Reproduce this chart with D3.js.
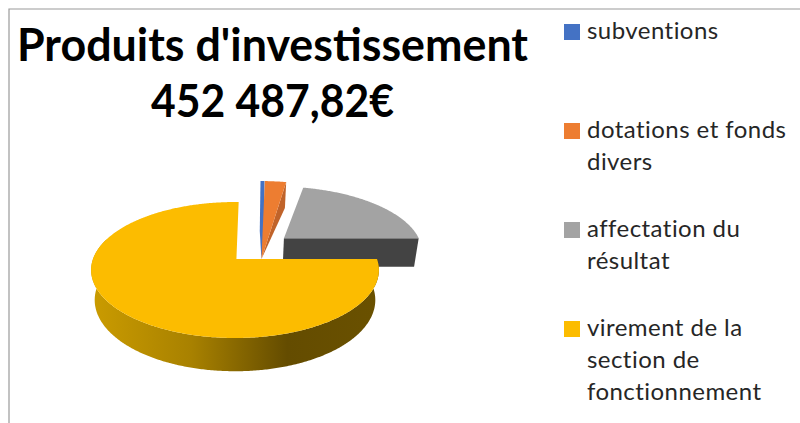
<!DOCTYPE html>
<html><head><meta charset="utf-8">
<script src="https://cdn.jsdelivr.net/npm/d3@7"></script>
<style>html,body{margin:0;padding:0;background:#fff}svg{display:block}text{font-family:Lato,Carlito,sans-serif;fill:#000}</style>
</head><body><div id="c"></div>
<script>
const categories = ["subventions","dotations et fonds divers","affectation du résultat","virement de la section de fonctionnement"];
const values = [2500, 13400, 97100, 339487.82];
const colors = ["#4472c4","#ed7d31","#a3a3a3","#fcbc00"];
const sideColors = [null,"#c0632a","#434343",null];
const explodeU = [0.222,0.225,0.363,0];
const explodeV = [0.455,0.455,0.33,0];
const titleLines = ["Produits d'investissement","452 487,82€"];
const titleWidths = [511,243];
const legendLines = [["subventions"],["dotations et fonds","divers"],["affectation du","résultat"],["virement de la","section de","fonctionnement"]];

const W=800,H=423;
const svg=d3.select("#c").append("svg").attr("width",W).attr("height",H);
svg.append("rect").attr("width",W).attr("height",H).attr("fill","#fff");
svg.append("path").attr("d",`M9 ${H}V9H${W}`).attr("fill","none").attr("stroke","#9a9a9a").attr("stroke-width",1.2);

const defs=svg.append("defs");
const g=defs.append("linearGradient").attr("id","wall").attr("gradientUnits","userSpaceOnUse")
 .attr("x1",90).attr("x2",380).attr("y1",0).attr("y2",0);
[[0,"#cb9c00"],[0.35,"#a88100"],[0.68,"#644c00"],[1,"#6a5100"]].forEach(s=>g.append("stop").attr("offset",s[0]).attr("stop-color",s[1]));

// perspective projection of the pie's unit disc
const ax=235,ay=259,A=142,B=66.2,p=0.162,T=29.5,S=0.975;
const topPt=(u,v)=>{const w=1+p*v;return [ax+A*u/w, ay-B*v/w];};
const botPt=(u,v)=>{const w=1+p*v;return [ax+A*S*u/w, ay+(T-B*S*v)/w];};
const line=d3.line();
const arcs=d3.pie().sort(null).value(d=>d).startAngle(0).endAngle(2*Math.PI)(values);
const pts=(fn,a0,a1,du,dv)=>{const n=Math.max(2,Math.ceil(Math.abs(a1-a0)/0.01));
  return d3.range(n+1).map(i=>{const t=a0+(a1-a0)*i/n;return fn(du+Math.sin(t),dv+Math.cos(t));});};
const add=(poly,fill)=>svg.append("path").attr("d",line(poly)+"Z").attr("fill",fill);

// blue: a thin strip that tapers only near its foot
{
  const a=arcs[0],du=explodeU[0],dv=explodeV[0],sw=Math.sin(a.endAngle);
  add([...pts(topPt,a.startAngle,a.endAngle,du,dv),topPt(du,dv),botPt(du-sw/2,dv),topPt(du-sw,dv)],colors[0]);
}
// orange: top face running to the foot of the apex, with its cut wall
{
  const a=arcs[1],du=explodeU[1],dv=explodeV[1];
  const foot=botPt(du-0.02,dv);
  const ex=du+Math.sin(a.endAngle),ev=dv+Math.cos(a.endAngle);
  add([topPt(ex,ev),botPt(ex,ev),foot],sideColors[1]);
  add([foot,...pts(topPt,a.startAngle,a.endAngle,du,dv)],colors[1]);
}
// grey slice
{
  const a=arcs[2],du=explodeU[2],dv=explodeV[2];
  const ex=du+Math.sin(a.endAngle),ev=dv+Math.cos(a.endAngle);
  add([topPt(du,dv),botPt(du,dv),botPt(ex,ev),topPt(ex,ev)],sideColors[2]);
  add([topPt(du,dv),...pts(topPt,a.startAngle,a.endAngle,du,dv)],colors[2]);
}
// yellow slice
{
  const a=arcs[3];
  const wallEnd=a.startAngle+Math.PI*1.1;
  add([...pts(topPt,a.startAngle,wallEnd,0,0),...pts(botPt,wallEnd,a.startAngle,0,0)],"url(#wall)");
  add([topPt(0.01,0),...pts(topPt,a.startAngle,a.endAngle+0.03,0,0)],colors[3]);
}
// title
svg.selectAll(".t").data(titleLines).join("text").attr("class","t")
  .attr("x",272.5).attr("y",(d,i)=>61+i*56).attr("text-anchor","middle")
  .attr("font-size",45).attr("font-weight",700)
  .attr("textLength",(d,i)=>titleWidths[i]).attr("lengthAdjust","spacingAndGlyphs").text(d=>d);
// legend
const legendTop=[39,138,237,336];
categories.forEach((c,i)=>{
  svg.append("rect").attr("x",564).attr("y",legendTop[i]-15).attr("width",16).attr("height",16).attr("fill",colors[i]);
  legendLines[i].forEach((l,j)=>svg.append("text").attr("x",587).attr("y",legendTop[i]+j*32)
    .attr("font-size",24).style("letter-spacing","0.45px").style("fill","#262626").text(l));
});
</script></body></html>
